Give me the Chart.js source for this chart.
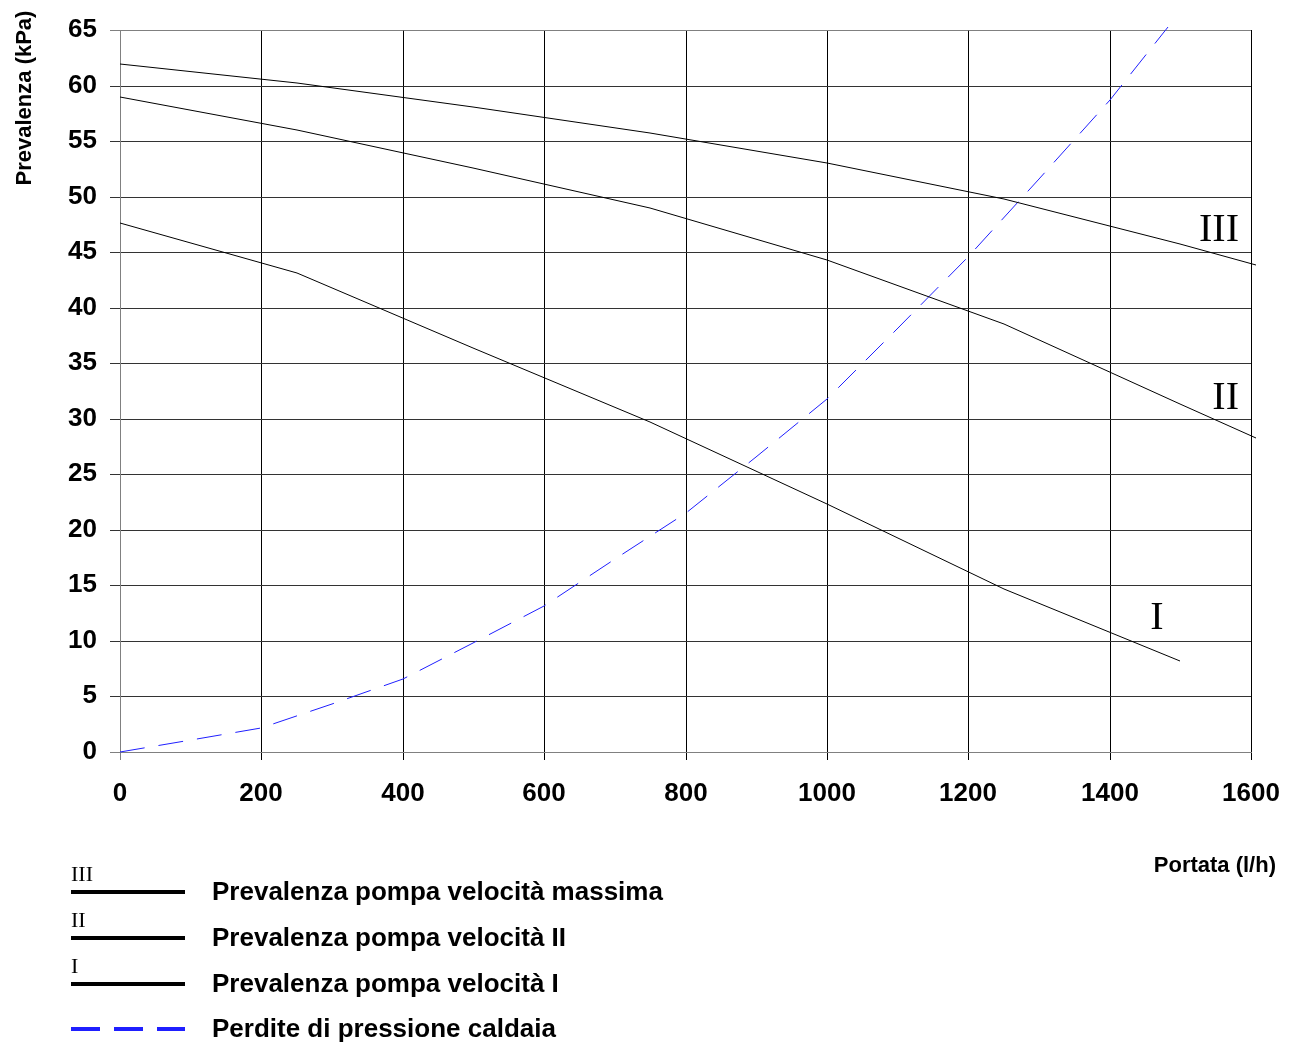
<!DOCTYPE html>
<html>
<head>
<meta charset="utf-8">
<script src="https://cdn.jsdelivr.net/npm/chart.js@4/dist/chart.umd.min.js"></script>
<style>
  html, body { margin: 0; padding: 0; background: #fff; }
  #wrap { width: 1295px; height: 1048px; position: relative; }
</style>
</head>
<body>
<div id="wrap"><canvas id="c" width="1295" height="1048"></canvas></div>
<script>
// ---- data ----
const flowIII = [0, 250, 500, 750, 1000, 1250, 1500, 1607];
const headIII = [61.9, 60.2, 58.05, 55.75, 53.0, 49.75, 45.7, 43.8];

const flowII = [0, 250, 500, 750, 1000, 1250, 1500, 1607];
const headII = [58.95, 56.0, 52.6, 49.0, 44.3, 38.5, 31.35, 28.3];

const flowI = [0, 250, 500, 750, 1000, 1250, 1500];
const headI = [47.65, 43.15, 36.4, 29.7, 22.3, 14.7, 8.2];

const flowLoss = [0, 100, 200, 300, 400, 500, 600, 700, 800, 900, 1000, 1100, 1200, 1300, 1400, 1483];
const headLoss = [0, 1.08, 2.13, 4.35, 6.57, 9.8, 13.14, 17.4, 21.5, 26.6, 31.8, 38.2, 44.6, 51.6, 58.7, 65.3];

const xTicks = [0, 200, 400, 600, 800, 1000, 1200, 1400, 1600];
const yTicks = [0, 5, 10, 15, 20, 25, 30, 35, 40, 45, 50, 55, 60, 65];

const seriesLabels = [
  'Prevalenza pompa velocità massima',
  'Prevalenza pompa velocità II',
  'Prevalenza pompa velocità I',
  'Perdite di pressione caldaia'
];
const romanLabels = ['III', 'II', 'I'];
const xTitle = 'Portata (l/h)';
const yTitle = 'Prevalenza (kPa)';

// ---- helpers ----
function pts(xs, ys) { return xs.map((x, i) => ({ x: x, y: ys[i] })); }

const SANS = '"Liberation Sans", Arial, sans-serif';
const SERIF = '"Liberation Serif", "Times New Roman", serif';
const BLUE = '#1f1fff';

const textPlugin = {
  id: 'extraText',
  afterDraw(chart) {
    const ctx = chart.ctx;
    ctx.save();
    ctx.fillStyle = '#000';

    // y axis title (top-aligned, rotated)
    ctx.save();
    ctx.translate(25, 98);
    ctx.rotate(-Math.PI / 2);
    ctx.font = 'bold 22px ' + SANS;
    ctx.textAlign = 'center';
    ctx.textBaseline = 'middle';
    ctx.fillText(yTitle, 0, 0);
    ctx.restore();

    // x axis title
    ctx.font = 'bold 22px ' + SANS;
    ctx.textAlign = 'right';
    ctx.textBaseline = 'middle';
    ctx.fillText(xTitle, 1276, 866);

    // roman numerals on the curves
    ctx.font = '40px ' + SERIF;
    ctx.textBaseline = 'alphabetic';
    ctx.textAlign = 'right';
    ctx.fillText(romanLabels[0], 1239, 241);
    ctx.fillText(romanLabels[1], 1239, 409);
    ctx.textAlign = 'center';
    ctx.fillText(romanLabels[2], 1157, 629);

    // legend
    const rowsY = [892, 938, 984, 1029];
    ctx.font = '22px ' + SERIF;
    ctx.textAlign = 'left';
    ctx.textBaseline = 'alphabetic';
    for (let i = 0; i < 3; i++) ctx.fillText(romanLabels[i], 71, rowsY[i] - 11);

    for (let i = 0; i < 4; i++) {
      ctx.beginPath();
      ctx.lineWidth = 4;
      if (i < 3) {
        ctx.strokeStyle = '#000';
        ctx.setLineDash([]);
      } else {
        ctx.strokeStyle = BLUE;
        ctx.setLineDash([29, 14]);
      }
      ctx.moveTo(71, rowsY[i]);
      ctx.lineTo(185, rowsY[i]);
      ctx.stroke();
    }
    ctx.setLineDash([]);
    ctx.font = 'bold 26px ' + SANS;
    ctx.textBaseline = 'middle';
    for (let i = 0; i < 4; i++) ctx.fillText(seriesLabels[i], 212, rowsY[i] + 1);
    ctx.restore();
  }
};

const common = { borderWidth: 1, pointRadius: 0, pointHoverRadius: 0, tension: 0, clip: false, fill: false };

new Chart(document.getElementById('c'), {
  type: 'line',
  data: {
    datasets: [
      Object.assign({ label: seriesLabels[0], data: pts(flowIII, headIII), borderColor: '#000' }, common),
      Object.assign({ label: seriesLabels[1], data: pts(flowII, headII), borderColor: '#000' }, common),
      Object.assign({ label: seriesLabels[2], data: pts(flowI, headI), borderColor: '#000' }, common),
      Object.assign({ label: seriesLabels[3], data: pts(flowLoss, headLoss), borderColor: BLUE, borderDash: [25, 14] }, common)
    ]
  },
  options: {
    responsive: false,
    animation: false,
    events: [],
    layout: { padding: { top: 30, right: 44, left: 0, bottom: 0 } },
    plugins: { legend: { display: false }, tooltip: { enabled: false } },
    scales: {
      x: {
        type: 'linear',
        min: 0, max: 1600,
        alignToPixels: true,
        afterBuildTicks(scale) { scale.ticks = xTicks.map(v => ({ value: v })); },
        afterFit(scale) { scale.height = 296; scale.paddingLeft = 0; scale.paddingRight = 0; },
        ticks: {
          color: '#000', font: { family: SANS, size: 26, weight: 'bold' }, padding: 18,
          maxRotation: 0, autoSkip: false,
          callback: (v) => String(v)
        },
        grid: {
          color: (c) => (c.tick && c.tick.value === 0) ? '#808080' : '#000',
          lineWidth: 1,
          tickLength: 8,
          drawTicks: true
        },
        border: { display: true, color: '#808080', width: 1 }
      },
      y: {
        type: 'linear',
        min: 0, max: 65,
        alignToPixels: true,
        afterBuildTicks(scale) { scale.ticks = yTicks.map(v => ({ value: v })); },
        afterFit(scale) { scale.width = 120; scale.paddingTop = 0; scale.paddingBottom = 0; },
        ticks: {
          color: '#000', font: { family: SANS, size: 26, weight: 'bold' }, padding: 13, autoSkip: false,
          callback: (v) => String(v)
        },
        grid: {
          color: (c) => (c.tick && (c.tick.value === 0 || c.tick.value === 65)) ? '#808080' : '#333',
          lineWidth: 1,
          tickLength: 10,
          drawTicks: true
        },
        border: { display: true, color: '#808080', width: 1 }
      }
    }
  },
  plugins: [textPlugin]
});
</script>
</body>
</html>
